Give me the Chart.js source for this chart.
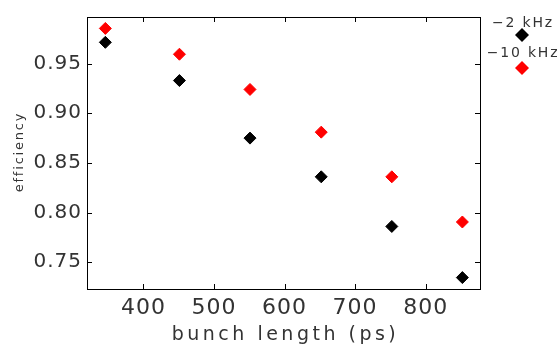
<!DOCTYPE html>
<html>
<head>
<meta charset="utf-8">
<script src="https://cdn.jsdelivr.net/npm/chart.js@4.4.1/dist/chart.umd.min.js"></script>
<style>
  html, body { margin: 0; padding: 0; background: #fff; }
</style>
</head>
<body>
<canvas id="myChart" width="558" height="347"></canvas>
<script>
// values
const bunchLength = [346, 451, 551, 652, 752, 852];
const eff2kHz = [0.9715, 0.933, 0.875, 0.836, 0.786, 0.7345];
const eff10kHz = [0.9855, 0.9595, 0.924, 0.881, 0.836, 0.7905];
const xTicks = [400, 500, 600, 700, 800];
const yTicks = [0.75, 0.80, 0.85, 0.90, 0.95];
const seriesNames = ["\u22122 kHz", "\u221210 kHz"];
const xTitle = "bunch length (ps)";
const yTitle = "efficiency";

function toPoints(xs, ys) {
  return xs.map((x, i) => ({x: x, y: ys[i]}));
}

const FONT = "'DejaVu Sans', sans-serif";
const TEXT = "#333";

// box, inward tick marks, axis titles and the legend on the right
const frame = {
  id: 'frame',
  beforeDraw(chart) {
    chart.ctx.letterSpacing = '1px';
  },
  beforeDatasetsDraw(chart) {
    const ctx = chart.ctx;
    const a = chart.chartArea;
    const sx = chart.scales.x, sy = chart.scales.y;
    ctx.save();
    ctx.strokeStyle = '#000';
    ctx.lineWidth = 1;
    ctx.strokeRect(a.left + 0.5, a.top + 0.5, a.right - a.left, a.bottom - a.top);
    ctx.beginPath();
    for (const v of xTicks) {
      const px = Math.round(sx.getPixelForValue(v)) + 0.5;
      ctx.moveTo(px, a.bottom); ctx.lineTo(px, a.bottom - 5);
      ctx.moveTo(px, a.top); ctx.lineTo(px, a.top + 5);
    }
    for (const v of yTicks) {
      const py = Math.round(sy.getPixelForValue(v)) + 0.5;
      ctx.moveTo(a.left, py); ctx.lineTo(a.left + 5, py);
      ctx.moveTo(a.right, py); ctx.lineTo(a.right - 5, py);
    }
    ctx.stroke();
    ctx.restore();
  },
  afterDraw(chart) {
    const ctx = chart.ctx;
    const a = chart.chartArea;
    ctx.save();
    ctx.fillStyle = TEXT;

    ctx.font = "19px " + FONT;
    ctx.letterSpacing = '3.5px';
    ctx.textAlign = 'center';
    ctx.textBaseline = 'alphabetic';
    ctx.fillText(xTitle, (a.left + a.right) / 2 + 2, 340);

    ctx.save();
    ctx.font = "13px " + FONT;
    ctx.letterSpacing = '1.8px';
    ctx.translate(23, (a.top + a.bottom) / 2);
    ctx.rotate(-Math.PI / 2);
    ctx.fillText(yTitle, 1, 0);
    ctx.restore();

    // legend
    const ds = chart.data.datasets;
    const lx = 522;
    const rows = [{text: 27, mark: 35}, {text: 57, mark: 68}];
    ctx.font = "14px " + FONT;
    ctx.letterSpacing = '1.8px';
    ds.forEach((d, i) => {
      ctx.fillStyle = TEXT;
      ctx.fillText(d.label, lx + 1, rows[i].text);
      ctx.fillStyle = d.backgroundColor;
      ctx.beginPath();
      ctx.moveTo(lx - 7, rows[i].mark);
      ctx.lineTo(lx, rows[i].mark - 7);
      ctx.lineTo(lx + 7, rows[i].mark);
      ctx.lineTo(lx, rows[i].mark + 7);
      ctx.closePath();
      ctx.fill();
    });
    ctx.restore();
  }
};

new Chart("myChart", {
  type: "scatter",
  data: {
    datasets: [{
      label: seriesNames[0],
      data: toPoints(bunchLength, eff2kHz),
      backgroundColor: "#000000",
      borderColor: "#000000",
      pointStyle: "rectRot",
      pointRadius: 6,
      borderWidth: 1
    }, {
      label: seriesNames[1],
      data: toPoints(bunchLength, eff10kHz),
      backgroundColor: "#ff0000",
      borderColor: "#ff0000",
      pointStyle: "rectRot",
      pointRadius: 6,
      borderWidth: 1
    }]
  },
  options: {
    responsive: false,
    animation: false,
    layout: {padding: {left: 0, right: 78, top: 15, bottom: 0}},
    plugins: {
      legend: {display: false},
      tooltip: {enabled: false}
    },
    scales: {
      x: {
        type: "linear",
        min: 320,
        max: 877,
        afterBuildTicks: (s) => { s.ticks = xTicks.map(v => ({value: v})); },
        afterFit: (s) => { s.height = 58; },
        grid: {display: false, drawTicks: false},
        border: {display: false},
        ticks: {
          color: TEXT,
          padding: 6,
          maxRotation: 0,
          font: {family: FONT, size: 22}
        }
      },
      y: {
        type: "linear",
        min: 0.723,
        max: 0.997,
        afterBuildTicks: (s) => { s.ticks = yTicks.map(v => ({value: v})); },
        afterFit: (s) => { s.width = 87; },
        grid: {display: false, drawTicks: false},
        border: {display: false},
        ticks: {
          color: TEXT,
          padding: 5,
          font: {family: FONT, size: 20},
          callback: (v) => v.toFixed(2)
        }
      }
    }
  },
  plugins: [frame]
});
</script>
</body>
</html>
